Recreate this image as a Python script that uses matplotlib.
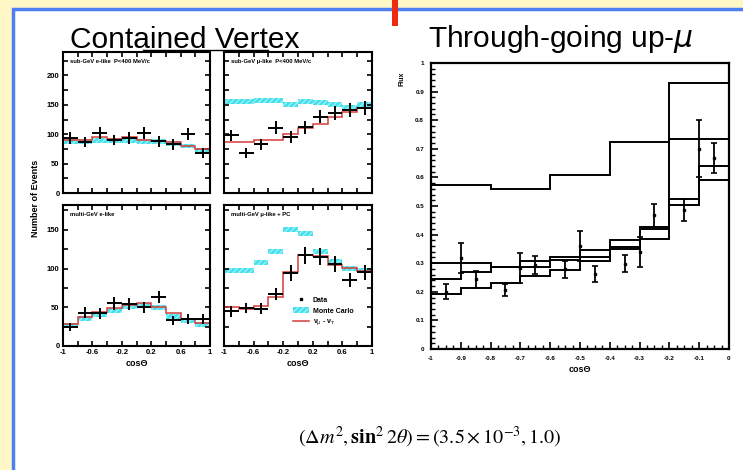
import numpy as np
import matplotlib
matplotlib.use("Agg")
import matplotlib.pyplot as plt
from matplotlib.patches import Rectangle, Patch
from matplotlib.lines import Line2D

plt.rcParams['font.family'] = ['Liberation Sans', 'DejaVu Sans']
plt.rcParams['hatch.linewidth'] = 0.8

# ---------------- data: contained vertex panels ----------------
cos_edges = [-1.0, -0.8, -0.6, -0.4, -0.2, 0.0, 0.2, 0.4, 0.6, 0.8, 1.0]
cos_centers = [-0.9, -0.7, -0.5, -0.3, -0.1, 0.1, 0.3, 0.5, 0.7, 0.9]

tl_label = "sub-GeV e-like  P<400 MeV/c"
tl_data = [93, 87, 102, 90, 94, 102, 88, 83, 100, 68]
tl_err = [10, 9, 10, 9, 10, 10, 9, 9, 10, 8]
tl_mc = [87, 87, 90, 89, 90, 88, 87, 85, 80, 72]
tl_fit = [90, 90, 96, 92, 95, 90, 89, 86, 80, 75]

tr_label = "sub-GeV \u03bc-like  P<400 MeV/c"
tr_data = [98, 68, 83, 111, 95, 112, 130, 136, 142, 144]
tr_err = [10, 8, 9, 11, 10, 11, 11, 12, 12, 12]
tr_mc = [155, 155, 157, 158, 150, 156, 154, 150, 146, 150]
tr_fit = [87, 87, 91, 90, 101, 110, 117, 129, 138, 145]

bl_label = "multi-GeV e-like"
bl_data = [25, 43, 42, 55, 54, 50, 63, 33, 35, 35]
bl_err = [5, 7, 7, 8, 8, 7, 8, 6, 6, 6]
bl_mc = [27, 36, 40, 46, 51, 52, 50, 38, 33, 28]
bl_fit = [28, 38, 44, 49, 53, 56, 50, 42, 35, 30]

br_label = "multi-GeV \u03bc-like + PC"
br_data = [45, 49, 48, 67, 94, 117, 115, 106, 85, 95]
br_err = [7, 7, 7, 8, 10, 11, 11, 10, 9, 10]
br_mc = [97, 98, 108, 122, 150, 145, 122, 109, 100, 97]
br_fit = [50, 48, 52, 63, 95, 117, 116, 105, 101, 97]

x_tick_labels = ['-1', '', '-0.6', '', '-0.2', '', '0.2', '', '0.6', '', '1']

# ---------------- data: through-going up-mu panel ----------------
up_edges = [-1.0, -0.9, -0.8, -0.7, -0.6, -0.5, -0.4, -0.3, -0.2, -0.1, 0.0]
wide_edges = [-1.0, -0.8, -0.6, -0.4, -0.2, 0.0]
wide_curve = [0.574, 0.560, 0.608, 0.724, 0.930]
curve1 = [0.300, 0.300, 0.288, 0.306, 0.322, 0.346, 0.382, 0.426, 0.736, 0.736]
curve2 = [0.244, 0.270, 0.288, 0.288, 0.312, 0.320, 0.356, 0.418, 0.526, 0.640]
curve3 = [0.192, 0.212, 0.232, 0.254, 0.276, 0.308, 0.348, 0.384, 0.504, 0.590]

ptsA_x = [-0.95, -0.85, -0.75, -0.65, -0.55, -0.45, -0.35, -0.25, -0.15, -0.05]
ptsA_y = [0.200, 0.244, 0.206, 0.294, 0.278, 0.262, 0.298, 0.468, 0.486, 0.668]
ptsA_e = [0.026, 0.030, 0.020, 0.032, 0.028, 0.028, 0.030, 0.040, 0.038, 0.052]
ptsB_x = [-0.9, -0.7, -0.5, -0.3, -0.1]
ptsB_y = [0.318, 0.284, 0.360, 0.340, 0.700]
ptsB_e = [0.052, 0.052, 0.052, 0.052, 0.100]

up_xticks = [-1.0, -0.9, -0.8, -0.7, -0.6, -0.5, -0.4, -0.3, -0.2, -0.1, 0.0]
up_xlabels = ['-1', '-0.9', '-0.8', '-0.7', '-0.6', '-0.5', '-0.4', '-0.3', '-0.2', '-0.1', '0']
up_yticks = [0.0, 0.1, 0.2, 0.3, 0.4, 0.5, 0.6, 0.7, 0.8, 0.9, 1.0]
up_ylabels = ['0', '0.1', '0.2', '0.3', '0.4', '0.5', '0.6', '0.7', '0.8', '0.9', '1']

# ---------------- figure ----------------
W, H = 743, 470
fig = plt.figure(figsize=(W / 100, H / 100), dpi=100)
fig.patch.set_facecolor('#FFF8C6')

def fx(px):
    return px / W

def fy(py):
    return 1 - py / H

# white slide area with blue border
fig.add_artist(Rectangle((fx(13), -0.05), 1.0, fy(9) + 0.05, transform=fig.transFigure,
                         facecolor='white', edgecolor='#4D7EF2', linewidth=2.5, zorder=0))
# red mark at top
fig.add_artist(Rectangle((fx(392), fy(26)), fx(6), 26 / H, transform=fig.transFigure,
                         facecolor='#EE2A10', edgecolor='none', zorder=1))

MC_COLOR = '#45E0EC'
FIT_COLOR = '#D63A3A'


def cv_panel(rect, data, err, mc, fit, label, ylim, yticks, ylabels, xlabels, mc_half):
    ax = fig.add_axes(rect)
    mc_arr = np.array(mc, dtype=float)
    ax.bar(cos_centers, 2 * mc_half, bottom=mc_arr - mc_half, width=0.2,
           color=MC_COLOR, hatch='//////', edgecolor='#A8F4F8', linewidth=0, zorder=1)
    ax.stairs(fit, cos_edges, color=FIT_COLOR, linewidth=1.1, baseline=None, zorder=2)
    ax.errorbar(cos_centers, data, xerr=0.1, yerr=err, fmt='none', ecolor='black',
                elinewidth=1.4, zorder=3)
    ax.set_xlim(-1, 1)
    ax.set_ylim(*ylim)
    ax.set_xticks(cos_edges)
    ax.set_xticklabels(xlabels)
    ax.set_yticks(yticks)
    ax.set_yticklabels(ylabels)
    ax.tick_params(direction='in', top=True, right=True, length=3.5, width=1.2,
                   labelsize=5.5, pad=2.5)
    for t in ax.get_xticklabels() + ax.get_yticklabels():
        t.set_fontweight('bold')
    for s in ax.spines.values():
        s.set_linewidth(1.5)
    ax.text(0.05, 0.93, label, transform=ax.transAxes, fontsize=4.2, fontweight='bold',
            va='center', ha='left')
    return ax


top_yt = [0, 25, 50, 75, 100, 125, 150, 175, 200, 225]
top_yl = ['0', '', '50', '', '100', '', '150', '', '200', '']
bot_yt = [0, 25, 50, 75, 100, 125, 150, 175]
bot_yl = ['0', '', '50', '', '100', '', '150', '']
blank_x = [''] * 11

ax_tl = cv_panel([fx(63), fy(193), fx(147), 141 / H], tl_data, tl_err, tl_mc, tl_fit, tl_label,
                 (0, 240), top_yt, top_yl, blank_x, 4.2)
ax_tr = cv_panel([fx(224), fy(193), fx(148), 141 / H], tr_data, tr_err, tr_mc, tr_fit, tr_label,
                 (0, 240), top_yt, [''] * len(top_yt), blank_x, 4.2)
ax_bl = cv_panel([fx(63), fy(346), fx(147), 141 / H], bl_data, bl_err, bl_mc, bl_fit, bl_label,
                 (0, 182), bot_yt, bot_yl, x_tick_labels, 3.2)
ax_br = cv_panel([fx(224), fy(346), fx(148), 141 / H], br_data, br_err, br_mc, br_fit, br_label,
                 (0, 182), bot_yt, [''] * len(bot_yt), x_tick_labels, 3.2)

for ax in (ax_bl, ax_br):
    ax.set_xlabel('cos\u0398', fontsize=6.5, fontweight='bold', labelpad=2)

handles = [Line2D([], [], color='black', marker='s', markersize=2, linestyle='none'),
           Patch(facecolor=MC_COLOR, hatch='//////', edgecolor='#A8F4F8', linewidth=0),
           Line2D([], [], color=FIT_COLOR, linewidth=1.1)]
ax_br.legend(handles, ['Data', 'Monte Carlo', '\u03bd$_\u03bc$ - \u03bd$_\u03c4$'],
             loc='upper left', bbox_to_anchor=(0.45, 0.37), frameon=False,
             prop={'size': 5, 'weight': 'bold'}, handlelength=2.2, handleheight=1.0,
             labelspacing=0.45, borderaxespad=0, handletextpad=0.6)

fig.text(fx(36), fy(198), 'Number of Events', rotation=90, fontsize=6.5, fontweight='bold',
         ha='center', va='center')

fig.text(fx(70), fy(48), 'Contained Vertex', fontsize=21.5, ha='left', va='baseline')
fig.add_artist(Line2D([fx(143), fx(268)], [fy(50), fy(50)], transform=fig.transFigure,
                      color='black', linewidth=1.0))

# ---------------- through-going up-mu ----------------
ax_up = fig.add_axes([fx(431), fy(349), fx(298), 286 / H])
ax_up.stairs(wide_curve, wide_edges, color='black', linewidth=1.4, baseline=None)
ax_up.stairs(curve1, up_edges, color='black', linewidth=1.4, baseline=None)
ax_up.stairs(curve2, up_edges, color='black', linewidth=1.4, baseline=None)
ax_up.stairs(curve3, up_edges, color='black', linewidth=1.4, baseline=None)
ax_up.errorbar(ptsA_x, ptsA_y, yerr=ptsA_e, fmt='s', color='black', markersize=2,
               elinewidth=1.3, capsize=2, capthick=1.2)
ax_up.errorbar(ptsB_x, ptsB_y, yerr=ptsB_e, fmt='s', color='black', markersize=2,
               elinewidth=1.3, capsize=2, capthick=1.2)
ax_up.set_xlim(-1, 0)
ax_up.set_ylim(0, 1)
ax_up.set_xticks(up_xticks)
ax_up.set_xticklabels(up_xlabels)
ax_up.set_yticks(up_yticks)
ax_up.set_yticklabels(up_ylabels)
ax_up.set_xticks(np.arange(-1, 0.0001, 0.025), minor=True)
ax_up.set_yticks(np.arange(0, 1.0001, 0.02), minor=True)
ax_up.tick_params(which='major', direction='in', length=5, width=1.2, labelsize=4.5, pad=5)
ax_up.tick_params(which='minor', direction='in', length=3, width=1.0)
for t in ax_up.get_xticklabels() + ax_up.get_yticklabels():
    t.set_fontweight('bold')
for s in ax_up.spines.values():
    s.set_linewidth(1.6)
ax_up.set_xlabel('cos\u0398', fontsize=6.5, fontweight='bold', labelpad=3)
fig.text(fx(402), fy(79), 'Flux', rotation=90, fontsize=5, fontweight='bold',
         ha='center', va='center')

fig.text(fx(428), fy(47), 'Through-going up-$\\mu$', fontsize=21.5, ha='left', va='baseline')

# formula
fig.text(fx(430), fy(437), r'$(\Delta m^2, \mathbf{sin}^2\, 2\theta) = (3.5\times 10^{-3}, 1.0)$',
         fontsize=14.5, ha='center', va='center', math_fontfamily='stix')

fig.savefig('out.png', dpi=100, facecolor=fig.get_facecolor())
